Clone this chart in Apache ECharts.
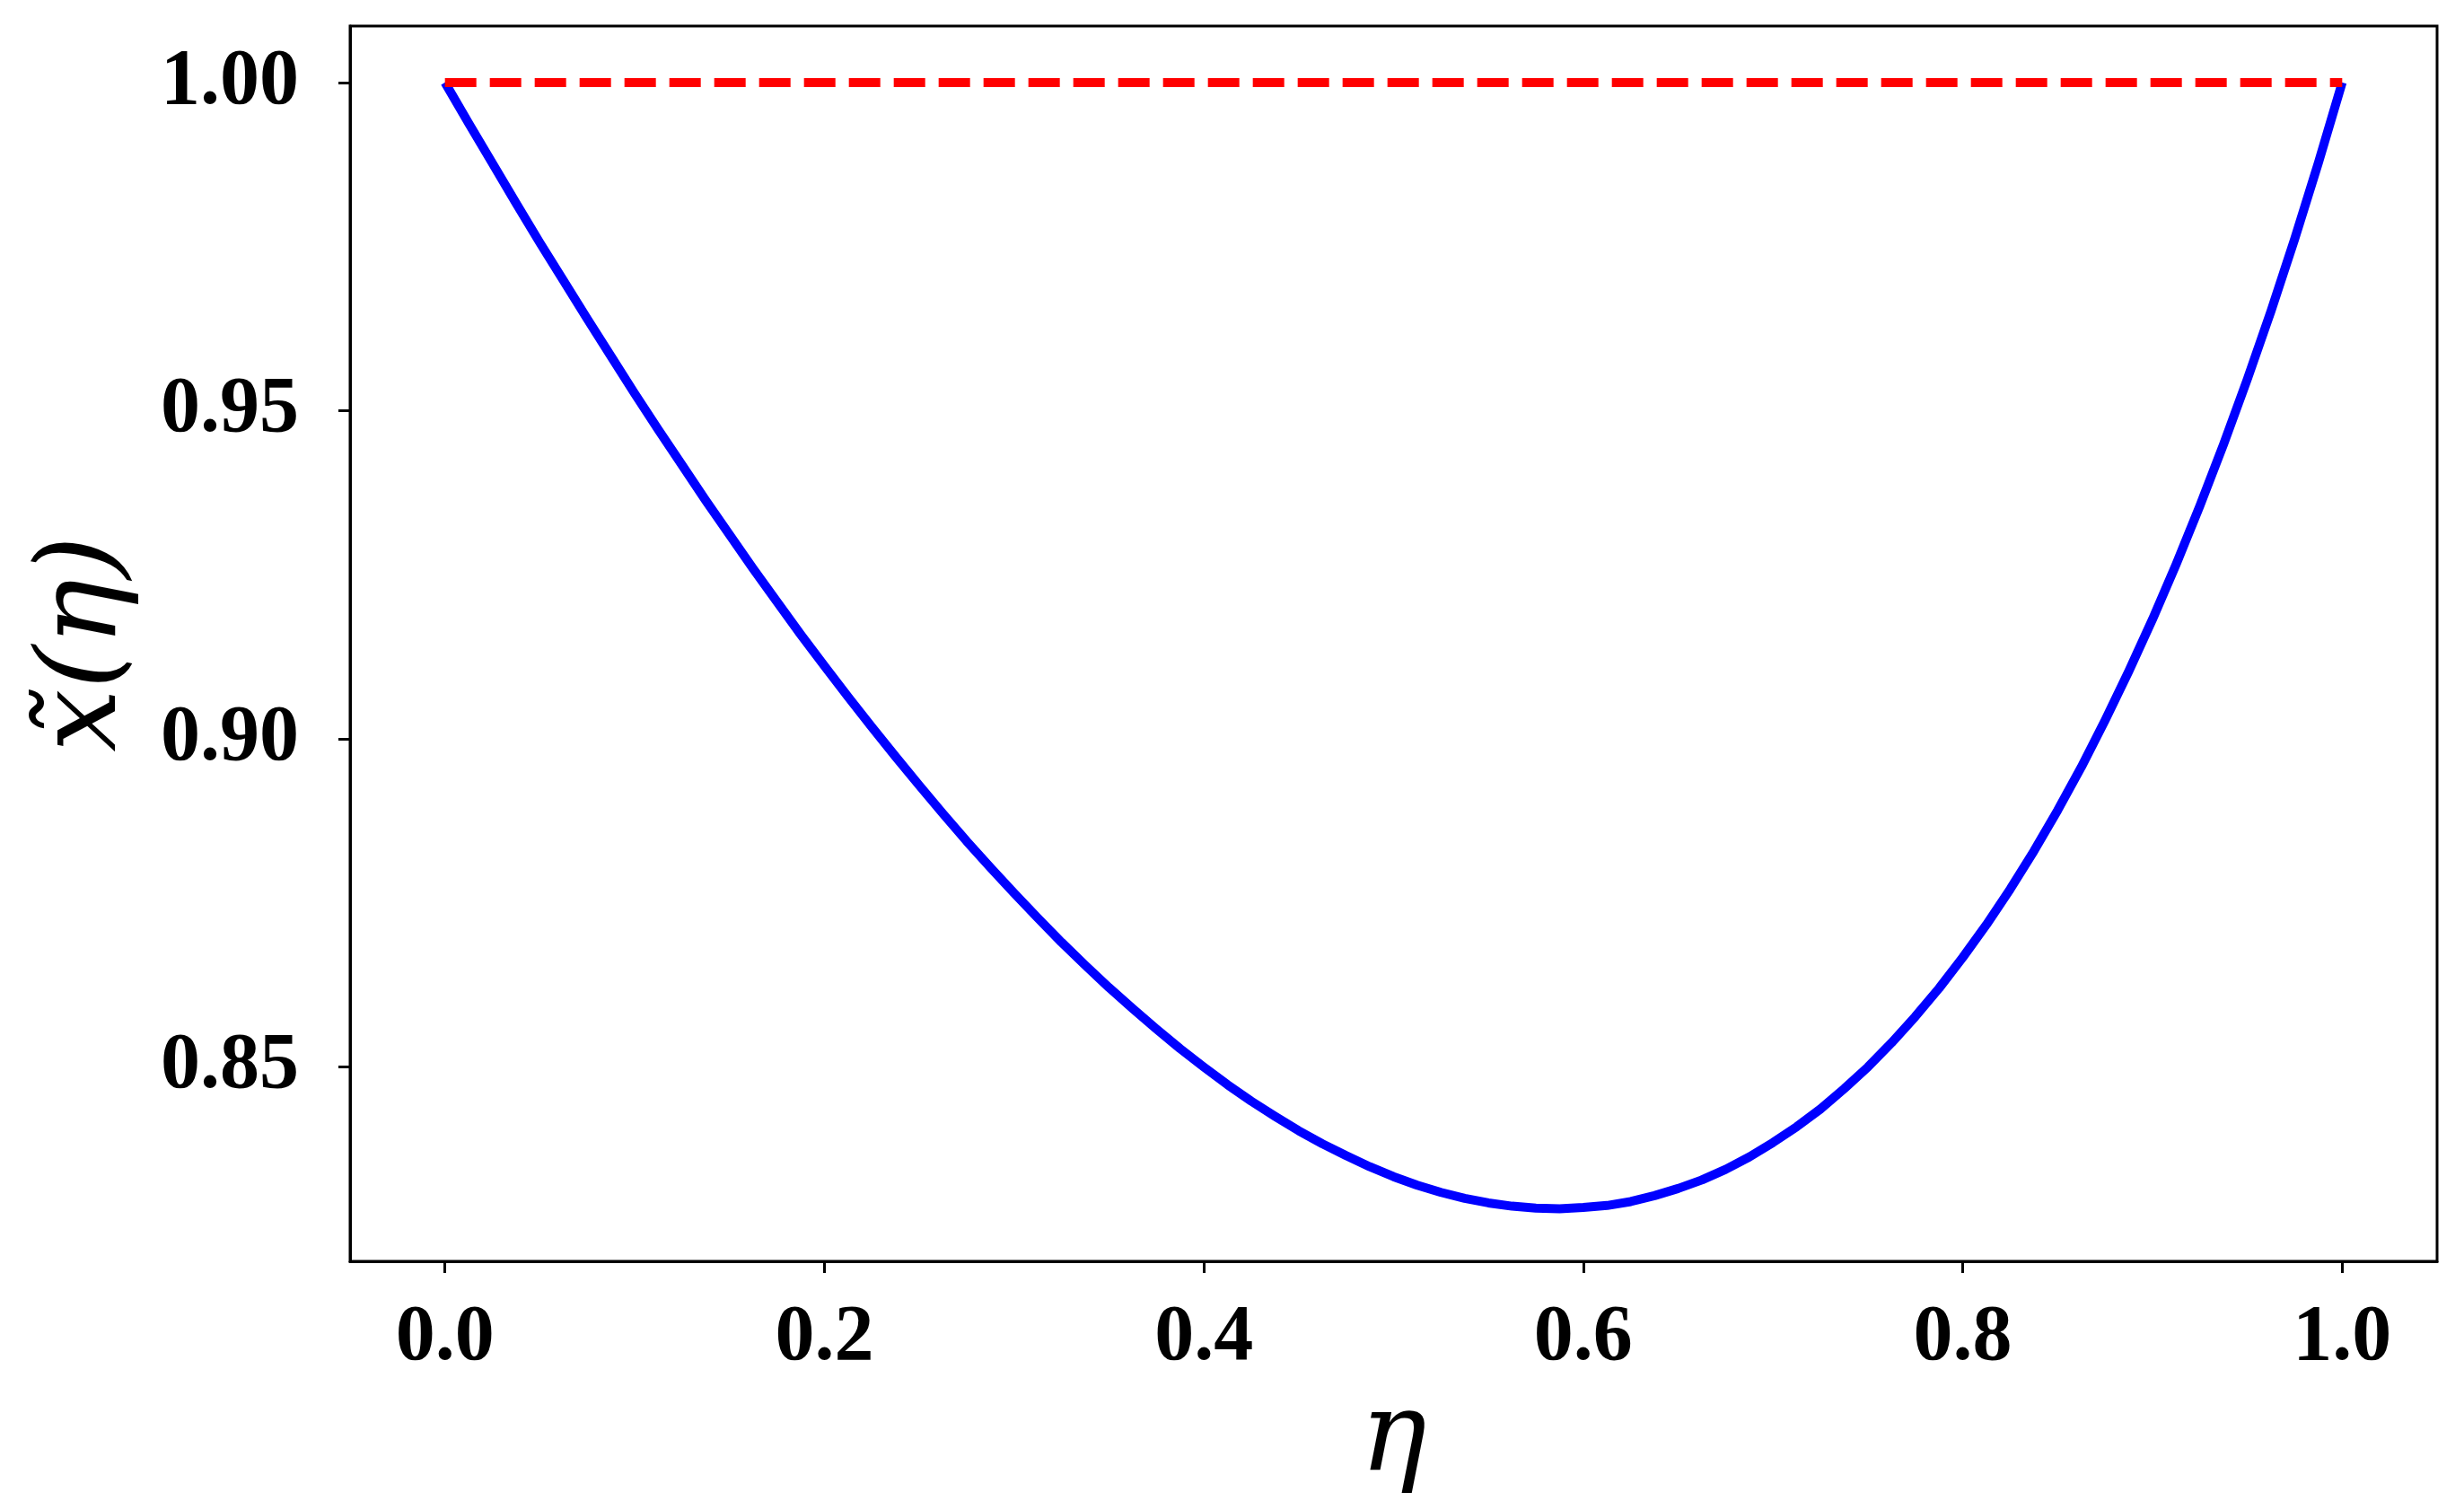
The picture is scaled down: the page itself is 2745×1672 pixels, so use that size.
<!DOCTYPE html>
<html>
<head>
<meta charset="utf-8">
<script src="https://cdn.jsdelivr.net/npm/echarts@6/dist/echarts.min.js"></script>
<style>
  html, body { margin: 0; padding: 0; background: #fff; }
  #chart { width: 2745px; height: 1672px; }
</style>
</head>
<body>
<div id="chart"></div>
<script>
// eta values along the x axis and the curve x~(eta)
const eta = [0, 0.0125, 0.025, 0.0375, 0.05, 0.0625, 0.075, 0.0875, 0.1, 0.1125,
  0.125, 0.1375, 0.15, 0.1625, 0.175, 0.1875, 0.2, 0.2125, 0.225, 0.2375,
  0.25, 0.2625, 0.275, 0.2875, 0.3, 0.3125, 0.325, 0.3375, 0.35, 0.3625,
  0.375, 0.3875, 0.4, 0.4125, 0.425, 0.4375, 0.45, 0.4625, 0.475, 0.4875,
  0.5, 0.5125, 0.525, 0.5375, 0.55, 0.5625, 0.575, 0.5875, 0.6, 0.6125,
  0.625, 0.6375, 0.65, 0.6625, 0.675, 0.6875, 0.7, 0.7125, 0.725, 0.7375,
  0.75, 0.7625, 0.775, 0.7875, 0.8, 0.8125, 0.825, 0.8375, 0.85, 0.8625,
  0.875, 0.8875, 0.9, 0.9125, 0.925, 0.9375, 0.95, 0.9625, 0.975, 0.9875, 1.0];
const xTilde = [1.0, 0.9938, 0.9877, 0.9816, 0.9756, 0.9698, 0.9640, 0.9583, 0.9526, 0.9471,
  0.9417, 0.9363, 0.9311, 0.9259, 0.9209, 0.9159, 0.9111, 0.9064, 0.9018, 0.8973,
  0.8929, 0.8886, 0.8844, 0.8804, 0.8765, 0.8727, 0.8690, 0.8655, 0.8621, 0.8589,
  0.8558, 0.8528, 0.8500, 0.8473, 0.8448, 0.8425, 0.8403, 0.8383, 0.8365, 0.8348,
  0.8333, 0.8320, 0.8309, 0.8300, 0.8293, 0.8288, 0.8285, 0.8284, 0.8286, 0.8289,
  0.8295, 0.8304, 0.8315, 0.8328, 0.8344, 0.8363, 0.8385, 0.8409, 0.8436, 0.8467,
  0.8500, 0.8537, 0.8577, 0.8620, 0.8667, 0.8717, 0.8771, 0.8829, 0.8891, 0.8957,
  0.9028, 0.9103, 0.9182, 0.9266, 0.9355, 0.9449, 0.9548, 0.9652, 0.9762, 0.9878, 1.0];
// dashed reference line
const refEta = [0, 1];
const refValue = [1, 1];
// tick labels
const xTicks = [0, 0.2, 0.4, 0.6, 0.8, 1.0];
const yTicks = [0.85, 0.90, 0.95, 1.00];

const chart = echarts.init(document.getElementById('chart'));
const tickFont = {
  fontFamily: 'Liberation Serif',
  fontWeight: 'bold',
  fontSize: 88,
  color: '#000'
};
const nameFont = { fontFamily: 'DejaVu Serif', fontStyle: 'italic', fontSize: 124, color: '#000' };
const option = {
  animation: false,
  backgroundColor: '#fff',
  grid: {
    left: 390, right: 30, top: 29, bottom: 257,
    show: true, borderColor: '#000', borderWidth: 3
  },
  xAxis: {
    type: 'value',
    min: -0.05, max: 1.05,
    name: 'η',
    nameLocation: 'middle',
    nameGap: 138,
    nameTextStyle: nameFont,
    axisLine: { show: true, onZero: false, lineStyle: { color: '#000', width: 3 } },
    axisTick: { show: true, customValues: xTicks, length: 13, lineStyle: { color: '#000', width: 3 } },
    axisLabel: Object.assign({ customValues: xTicks, margin: 42, formatter: v => v.toFixed(1) }, tickFont),
    splitLine: { show: false }
  },
  yAxis: {
    type: 'value',
    min: 0.8204, max: 1.0086,
    name: 'x̃(η)',
    nameLocation: 'middle',
    nameRotate: 90,
    nameGap: 232,
    nameTextStyle: nameFont,
    axisLine: { show: true, onZero: false, lineStyle: { color: '#000', width: 3 } },
    axisTick: { show: true, customValues: yTicks, length: 13, lineStyle: { color: '#000', width: 3 } },
    axisLabel: Object.assign({ customValues: yTicks, margin: 57, formatter: v => v.toFixed(2) }, tickFont),
    splitLine: { show: false }
  },
  series: [
    {
      type: 'line',
      data: eta.map((e, i) => [e, xTilde[i]]),
      showSymbol: false,
      lineStyle: { color: '#0000ff', width: 10, join: 'round' }
    },
    {
      type: 'line',
      data: refEta.map((e, i) => [e, refValue[i]]),
      showSymbol: false,
      lineStyle: { color: '#ff0000', width: 10, type: [35, 15] }
    }
  ]
};
chart.setOption(option);
</script>
</body>
</html>
